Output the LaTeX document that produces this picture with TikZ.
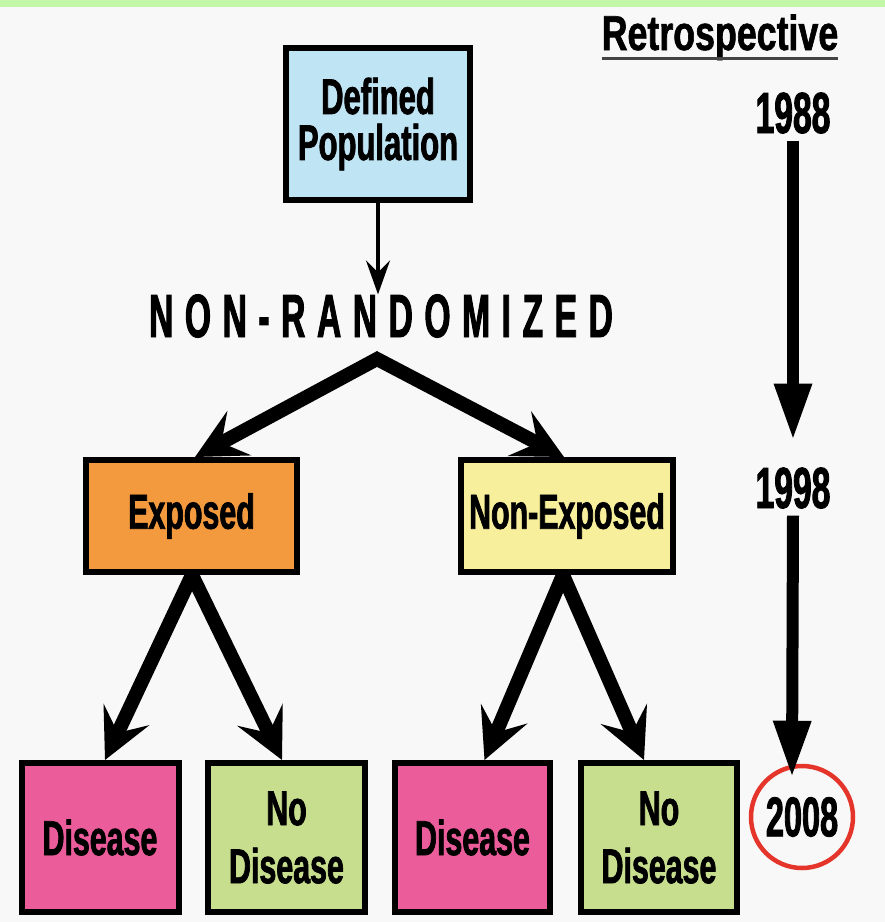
\documentclass[tikz,border=0pt]{standalone}
\usepackage{fontspec}
\setmainfont{Liberation Sans}
\newfontfamily\cfA{Liberation Sans}[FakeStretch=0.62,FakeBold=1.5]
\newfontfamily\cfB{Liberation Sans}[FakeStretch=0.73,FakeBold=1.2]
\newfontfamily\cfC{Liberation Sans}[FakeStretch=0.58,FakeBold=1.5]
\newfontfamily\cfD{Liberation Sans}[FakeStretch=0.55,LetterSpace=19,FakeBold=1.5]
\usetikzlibrary{arrows.meta}
\pgfdeclarelayer{bg}
\pgfdeclarelayer{conn}
\pgfsetlayers{bg,conn,main}
\definecolor{bgc}{HTML}{F8F8F8}
\definecolor{band}{HTML}{C3F7A8}
\definecolor{dpblue}{HTML}{BFE4F3}
\definecolor{expo}{HTML}{F49A3E}
\definecolor{nexp}{HTML}{F7EF9C}
\definecolor{dis}{HTML}{EB5C9B}
\definecolor{nodis}{HTML}{C7DE8E}
\definecolor{redc}{HTML}{E5352B}
\definecolor{ulgray}{HTML}{444444}
\tikzset{
  box/.style={draw=black, line width=6pt, inner sep=0pt, align=center,
    font=\cfA\bfseries\fontsize{49}{58}\selectfont},
  midbox/.style={box, minimum width=211pt, minimum height=112pt},
  lowbox/.style={box, minimum width=157pt, minimum height=149pt},
  txt/.style={inner sep=0pt, outer sep=0pt},
  yearlabel/.style={txt, font=\cfC\bfseries\fontsize{58}{58}\selectfont},
  thinarrow/.style={line width=3.5pt, -{Stealth[length=34pt,width=24pt,inset=12pt]}},
  bigarrow/.style={line width=14pt, line join=miter,
    {Stealth[length=50pt,width=50pt,inset=20pt]}-{Stealth[length=50pt,width=50pt,inset=20pt]}},
  timearrow/.style={line width=12pt, -{Triangle[length=57pt,width=35pt]}}
}
\begin{document}
\begin{tikzpicture}[x=1pt,y=-1pt]
\begin{pgfonlayer}{bg}
\fill[bgc] (0,0) rectangle (885,922);
\fill[band] (0,0) rectangle (885,7);
\end{pgfonlayer}
\useasboundingbox (0,0) rectangle (885,922);

% top box and label
\node[box, fill=dpblue, minimum width=184pt, minimum height=152pt,
  font=\cfA\bfseries\fontsize{50}{46}\selectfont] (dp) at (378,124) {Defined\\Population};
\node[txt, anchor=base, font=\cfD\bfseries\fontsize{61}{61}\selectfont] (nr) at (381,337) {NON-RANDOMIZED};

% middle boxes
\node[midbox, fill=expo] (exp) at (191.5,516) {Exposed};
\node[midbox, fill=nexp, minimum width=212pt] (ne) at (567,516) {Non-Exposed};

% bottom boxes
\node[lowbox, fill=dis] (d1) at (100,837.5) {Disease};
\node[lowbox, fill=nodis] (n1) at (286.5,837.5) {No\\Disease};
\node[lowbox, fill=dis, minimum width=155pt] (d2) at (472.5,837.5) {Disease};
\node[lowbox, fill=nodis, minimum width=156pt] (n2) at (659,837.5) {No\\Disease};

% timeline
\node[txt, anchor=base, font=\cfB\bfseries\fontsize{49}{49}\selectfont] (retro) at (720,50) {Retrospective};
\draw[line width=3pt, ulgray] ([yshift=-8pt]retro.base west) -- ([yshift=-8pt]retro.base east);
\node[yearlabel, anchor=base] (y88) at (793,133) {1988};
\node[yearlabel, anchor=base] (y98) at (793,508) {1998};
\node[draw=redc, line width=4.5pt, circle, minimum size=102pt, inner sep=0pt,
  font=\cfC\bfseries\fontsize{56}{56}\selectfont] (y08) at (802,817) {2008};
\draw[timearrow] ([yshift=-7pt]y88.south) -- ([yshift=27pt]y98.north);
\draw[timearrow] ([yshift=-7pt]y98.south) -- ([yshift=-14pt,xshift=-10pt]y08.north);

% connectors
\begin{pgfonlayer}{conn}
\draw[thinarrow] (dp.south) -- (dp.south |- nr.north);
\coordinate (apex) at (377,359);
\draw[bigarrow] ([xshift=3.5pt]exp.north) -- (apex) -- ([xshift=-3pt]ne.north);
\draw[bigarrow] ([xshift=5pt]d1.north) -- ([xshift=0.5pt]exp.south) -- ([xshift=-4.5pt]n1.north);
\draw[bigarrow] ([xshift=12pt]d2.north) -- ([xshift=-4pt]ne.south) -- ([xshift=-15pt]n2.north);
\end{pgfonlayer}
\end{tikzpicture}
\end{document}
